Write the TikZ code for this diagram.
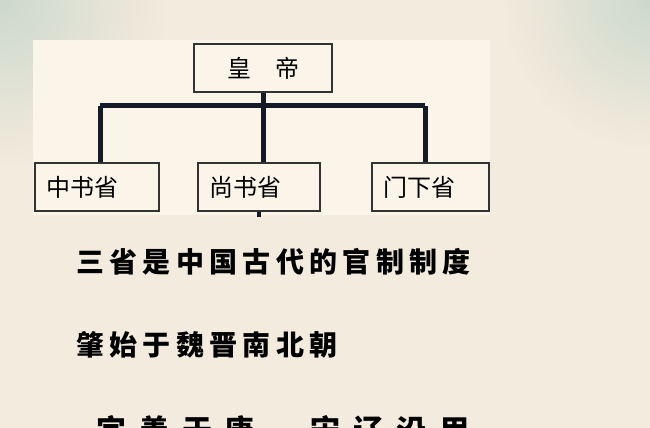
\documentclass[tikz,border=0pt]{standalone}
\usepackage{fontspec}
\newfontfamily\cjk{Noto Sans CJK SC}
\newfontfamily\cjkline{Noto Sans CJK SC}[LetterSpace=19]
\newfontfamily\cjkwide{Noto Sans CJK SC}[LetterSpace=43]
\definecolor{paper}{HTML}{F3EBDD}
\definecolor{panel}{HTML}{FBF5E9}
\definecolor{mist}{HTML}{CCD8CC}
\definecolor{ink}{HTML}{141A28}
\tikzset{
  office/.style={draw=black!80,line width=1.5pt,fill=panel,minimum height=36pt,
    inner xsep=8.25pt,align=left,font=\cjk\fontsize{18pt}{18pt}\selectfont},
  bus/.style={draw=ink,line width=3.75pt},
  verse/.style={anchor=west,inner sep=0pt,text=black}
}
\begin{document}
\begin{tikzpicture}[x=0.75pt,y=-0.75pt]
  \clip (0,0) rectangle (650,428);
  % background
  \fill[paper] (0,0) rectangle (650,428);
  \shade[inner color=mist,outer color=paper] (0,0) circle (170);
  \shade[inner color=mist,outer color=paper] (650,0) circle (150);
  \fill[panel] (33,40) rectangle (490,215);
  % boxes
  \node[office,minimum width=104pt,align=center] (emperor) at (263,68) {皇\hspace{1em}帝};
  \node[office,text width=76.5pt] (zhongshu) at (97,187) {中书省};
  \node[office,text width=75pt] (shangshu) at (259,187) {尚书省};
  \node[office,text width=71.25pt] (menxia) at (430.5,187) {门下省};
  % connectors
  \coordinate (barL) at (100,106);
  \coordinate (barR) at (425,106);
  \draw[bus] (barL) -- (barR);
  \draw[bus] (emperor.south) -- (emperor.south |- shangshu.north);
  \draw[bus] (barL) -- (barL |- zhongshu.north);
  \draw[bus] (barR) -- (barR |- menxia.north);
  \draw[ink,line width=3pt] (shangshu.south) -- ++(0,5);
  % text
  \node[verse,font=\cjkline\bfseries\fontsize{21pt}{21pt}\selectfont] (line1) at (76,262) {三省是中国古代的官制制度};
  \node[verse,font=\cjkline\bfseries\fontsize{21pt}{21pt}\selectfont] (line2) at (76,345) {肇始于魏晋南北朝};
  \node[verse,font=\cjkwide\bfseries\fontsize{22.5pt}{22.5pt}\selectfont] (line3) at (96,431) {完善于唐，宋辽沿用};
\end{tikzpicture}
\end{document}
